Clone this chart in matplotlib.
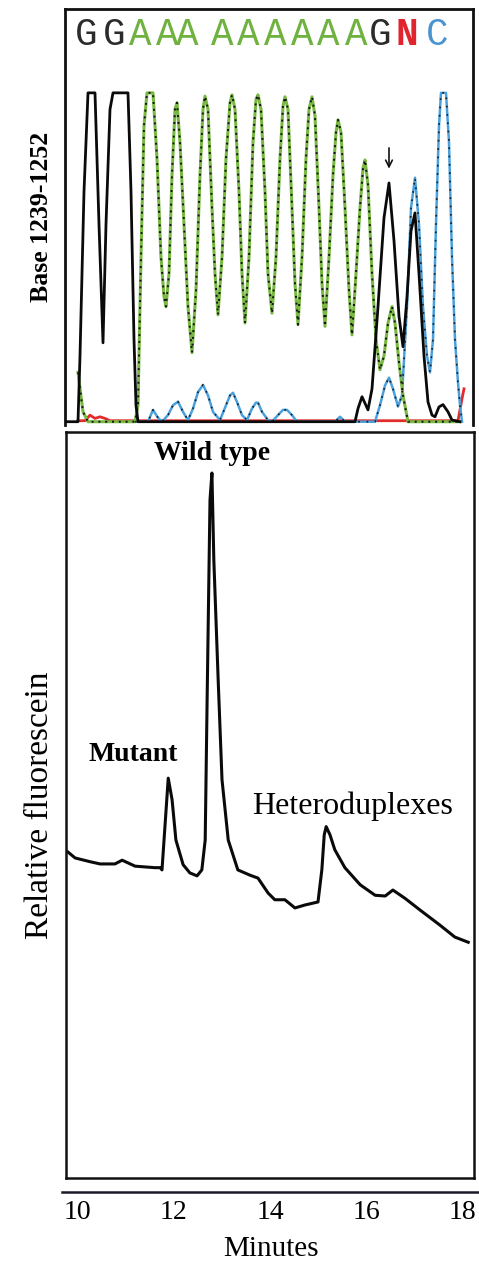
import matplotlib
matplotlib.use("Agg")
import matplotlib.pyplot as plt
import matplotlib.transforms as mtransforms

# ---------------- data ----------------
# Top panel: sequencing trace (scan position, signal)
g_scan = [65, 78, 80, 84, 88, 95, 99, 103, 106, 110, 113, 128, 131, 134, 136, 138, 200, 300, 355,
          358, 362, 368, 372, 378, 384, 389, 394, 399, 403, 407, 411, 415, 419, 424, 428, 432, 435,
          439, 443, 448, 452, 460]
g_sig = [0, 0, 20, 70, 100, 100, 60, 24, 60, 95, 100, 100, 70, 25, 5, 0, 0, 0, 0,
         4, 7.6, 3.6, 10, 35, 62, 72.6, 55, 32, 22.8, 38, 58, 63.5, 45, 20, 6, 2, 1.5,
         4.5, 5.2, 3, 0.5, 0]

a_scan = [78, 83, 88, 135, 138, 141, 144, 147, 153, 157, 161, 164, 166, 169, 172, 175, 177, 180,
          184, 188, 192, 196, 200, 203, 205, 208, 212, 215, 218, 222, 226, 230, 232, 235, 239, 242,
          245, 249, 253, 256, 258, 261, 265, 268, 272, 276, 280, 283, 285, 288, 292, 295, 298, 302,
          306, 309, 312, 315, 319, 322, 325, 329, 333, 336, 338, 341, 345, 349, 352, 356, 360, 363,
          365, 368, 372, 376, 380, 384, 388, 392, 395, 399, 403, 408, 460]
a_sig = [15, 3, 0, 0, 5, 50, 90, 100, 100, 80, 50, 38, 35, 45, 75, 95, 97, 85,
         60, 35, 21, 40, 75, 95, 99, 95, 65, 45, 32.5, 50, 80, 97, 99.4, 95, 70, 45,
         30, 50, 85, 98, 99.4, 95, 70, 45, 33, 50, 80, 96, 98.8, 95, 65, 42, 29.5, 50,
         80, 95, 98.8, 93, 65, 42, 29, 50, 75, 88, 91.8, 88, 65, 40, 26.4, 45, 65, 77,
         79.6, 72, 45, 25, 15.8, 20, 30, 35, 30, 18, 8, 0, 0]

c_scan = [135, 148, 153, 158, 162, 168, 173, 178, 183, 188, 193, 198, 203, 208, 213, 220, 226, 230,
          233, 237, 242, 247, 252, 256, 258, 262, 268, 272, 278, 283, 287, 292, 297, 335, 340, 345,
          375, 380, 385, 389, 393, 398, 402, 407, 411, 415, 419, 423, 427, 430, 433, 436, 439, 441,
          446, 449, 452, 455, 458, 460, 462]
c_sig = [0, 0, 3.6, 1.2, 0, 2, 5, 6.1, 3, 0.5, 4, 9, 11.2, 8, 3, 0.5, 5, 8,
         8.8, 6, 2, 0.5, 4, 5.8, 5.8, 3, 0.5, 0, 2, 3.6, 3.6, 2, 0, 0, 1.5, 0,
         0, 5, 11, 13.4, 10, 4.6, 8, 35, 65, 74.2, 60, 35, 20, 15, 25, 60, 90, 100,
         100, 85, 50, 25, 11.9, 5, 0]

t_scan = [78, 85, 90, 95, 100, 105, 110, 300, 458, 462, 464]
t_sig = [0.3, 0.3, 2.0, 1.0, 1.5, 1.0, 0.3, 0.3, 0.3, 7, 10]

bases = list("GGAAAAAAAAAGNC")
base_pos = [86, 114, 140, 167, 187, 222, 248, 275, 302, 328, 356, 380, 407, 437]
base_colors = {"G": "#2b2b2b", "A": "#6fb240", "N": "#e0252e", "C": "#4b93cf"}
arrow_scan = 389
arrow_peak = 72.6

# Bottom panel: DHPLC chromatogram (minutes, relative fluorescence)
minutes = [9.79, 9.94, 10.25, 10.46, 10.77, 10.92, 11.19, 11.60, 11.71, 11.75, 11.88, 11.96,
           12.04, 12.19, 12.33, 12.48, 12.58, 12.65, 12.69, 12.75, 12.79, 12.83, 12.92, 13.00,
           13.13, 13.33, 13.58, 13.75, 13.96, 14.10, 14.31, 14.52, 14.73, 15.00, 15.08, 15.13,
           15.17, 15.25, 15.35, 15.56, 15.88, 16.19, 16.40, 16.56, 16.81, 17.13, 17.54, 17.85,
           18.13]
fluor = [43.7, 42.9, 42.4, 42.1, 42.1, 42.6, 41.8, 41.6, 41.6, 41.3, 53.6, 50.7,
         45.3, 42.0, 40.9, 40.5, 41.3, 45.3, 64.1, 90.9, 94.5, 82.8, 66.8, 53.4,
         45.3, 41.3, 40.6, 40.2, 38.2, 37.3, 37.3, 36.2, 36.6, 37.0, 41.3, 46.0,
         47.1, 46.0, 44.0, 41.6, 39.3, 37.9, 37.8, 38.6, 37.5, 35.9, 33.9, 32.3,
         31.6]
peak_labels = ["Mutant", "Wild type", "Heteroduplexes"]
x_ticks = [10, 12, 14, 16, 18]

# ---------------- figure ----------------
W, H = 479, 1268
fig = plt.figure(figsize=(W / 100, H / 100), dpi=100)
serif = ["Liberation Serif", "DejaVu Serif"]


def rect(x0, y0, x1, y1):
    return [x0 / W, 1 - y1 / H, (x1 - x0) / W, (y1 - y0) / H]


# Top panel
ax1 = fig.add_axes(rect(65, 9, 473, 425))
ax1.plot(t_scan, t_sig, color="#e32b2b", lw=2.0, zorder=2)
ax1.plot(c_scan, c_sig, color="#4aa0dc", lw=1.8, zorder=3)
ax1.plot(c_scan, c_sig, color="#1a1a1a", lw=1.2, ls=(0, (1, 4)), zorder=4)
ax1.plot(a_scan, a_sig, color="#78b843", lw=2.2, zorder=3)
ax1.plot(a_scan, a_sig, color="#111111", lw=1.4, ls=(0, (1, 2.5)), zorder=4)
ax1.plot(g_scan, g_sig, color="#0a0a0a", lw=2.0, zorder=5)
ax1.set_xlim(65, 473)
ax1.set_ylim(-1, 125.5)
ax1.set_xticks([])
ax1.set_yticks([])
for s in ["left", "top", "right"]:
    ax1.spines[s].set_linewidth(2.0)
    ax1.spines[s].set_color("#111111")
ax1.spines["bottom"].set_visible(False)

trans = mtransforms.blended_transform_factory(ax1.transData, ax1.transAxes)
for b, xp in zip(bases, base_pos):
    ax1.text(xp, 0.9375, b, transform=trans, ha="center", va="center",
             fontsize=27, family=["Liberation Mono", "DejaVu Sans Mono"],
             fontweight="bold" if b == "N" else "normal", color=base_colors[b])

ax1.annotate("", xy=(arrow_scan, arrow_peak + 3.5), xytext=(arrow_scan, arrow_peak + 11.5),
             arrowprops=dict(arrowstyle="->", lw=1.2, color="#111111", mutation_scale=12))

ax1.set_ylabel("Base 1239-1252", family=serif, fontsize=18.5, fontweight="bold", labelpad=9)

# Bottom panel
ax2 = fig.add_axes(rect(66, 432, 474, 1178))
ax2.plot(minutes, fluor, color="#0a0a0a", lw=2.2)
ax2.set_xlim(9.75, 18.25)
ax2.set_ylim(0, 100)
ax2.set_xticks([])
ax2.set_yticks([])
for s in ax2.spines.values():
    s.set_linewidth(1.8)
    s.set_color("#111111")
ax2.set_ylabel("Relative fluorescein", family=serif, fontsize=24, labelpad=8)

i_mut = fluor.index(max(fluor[:15]))
i_wt = fluor.index(max(fluor))
i_het = fluor.index(max(fluor[30:]))
ax2.annotate(peak_labels[0], xy=(minutes[i_mut], fluor[i_mut]), xytext=(-25, 17),
             textcoords="offset points", ha="center", va="center",
             family=serif, fontsize=20, fontweight="bold")
ax2.annotate(peak_labels[1], xy=(minutes[i_wt], fluor[i_wt]), xytext=(0, 14),
             textcoords="offset points", ha="center", va="center",
             family=serif, fontsize=20, fontweight="bold")
ax2.annotate(peak_labels[2], xy=(minutes[i_het], fluor[i_het]), xytext=(19, 15),
             textcoords="offset points", ha="center", va="center",
             family=serif, fontsize=23)

# Separate x axis line
ax3 = fig.add_axes(rect(62, 1191, 479, 1192))
ax3.set_xlim(9.67, 18.35)
ax3.set_yticks([])
for s in ["left", "right", "top"]:
    ax3.spines[s].set_visible(False)
ax3.spines["bottom"].set_linewidth(1.8)
ax3.spines["bottom"].set_color("#1a1a2a")
ax3.set_xticks(x_ticks)
ax3.set_xticklabels([str(t) for t in x_ticks], family=serif, fontsize=20)
ax3.tick_params(axis="x", length=0, pad=6)
ax3.set_xlabel("Minutes", family=serif, fontsize=21, labelpad=8)
ax3.patch.set_visible(False)

fig.savefig("out.png", dpi=100)
